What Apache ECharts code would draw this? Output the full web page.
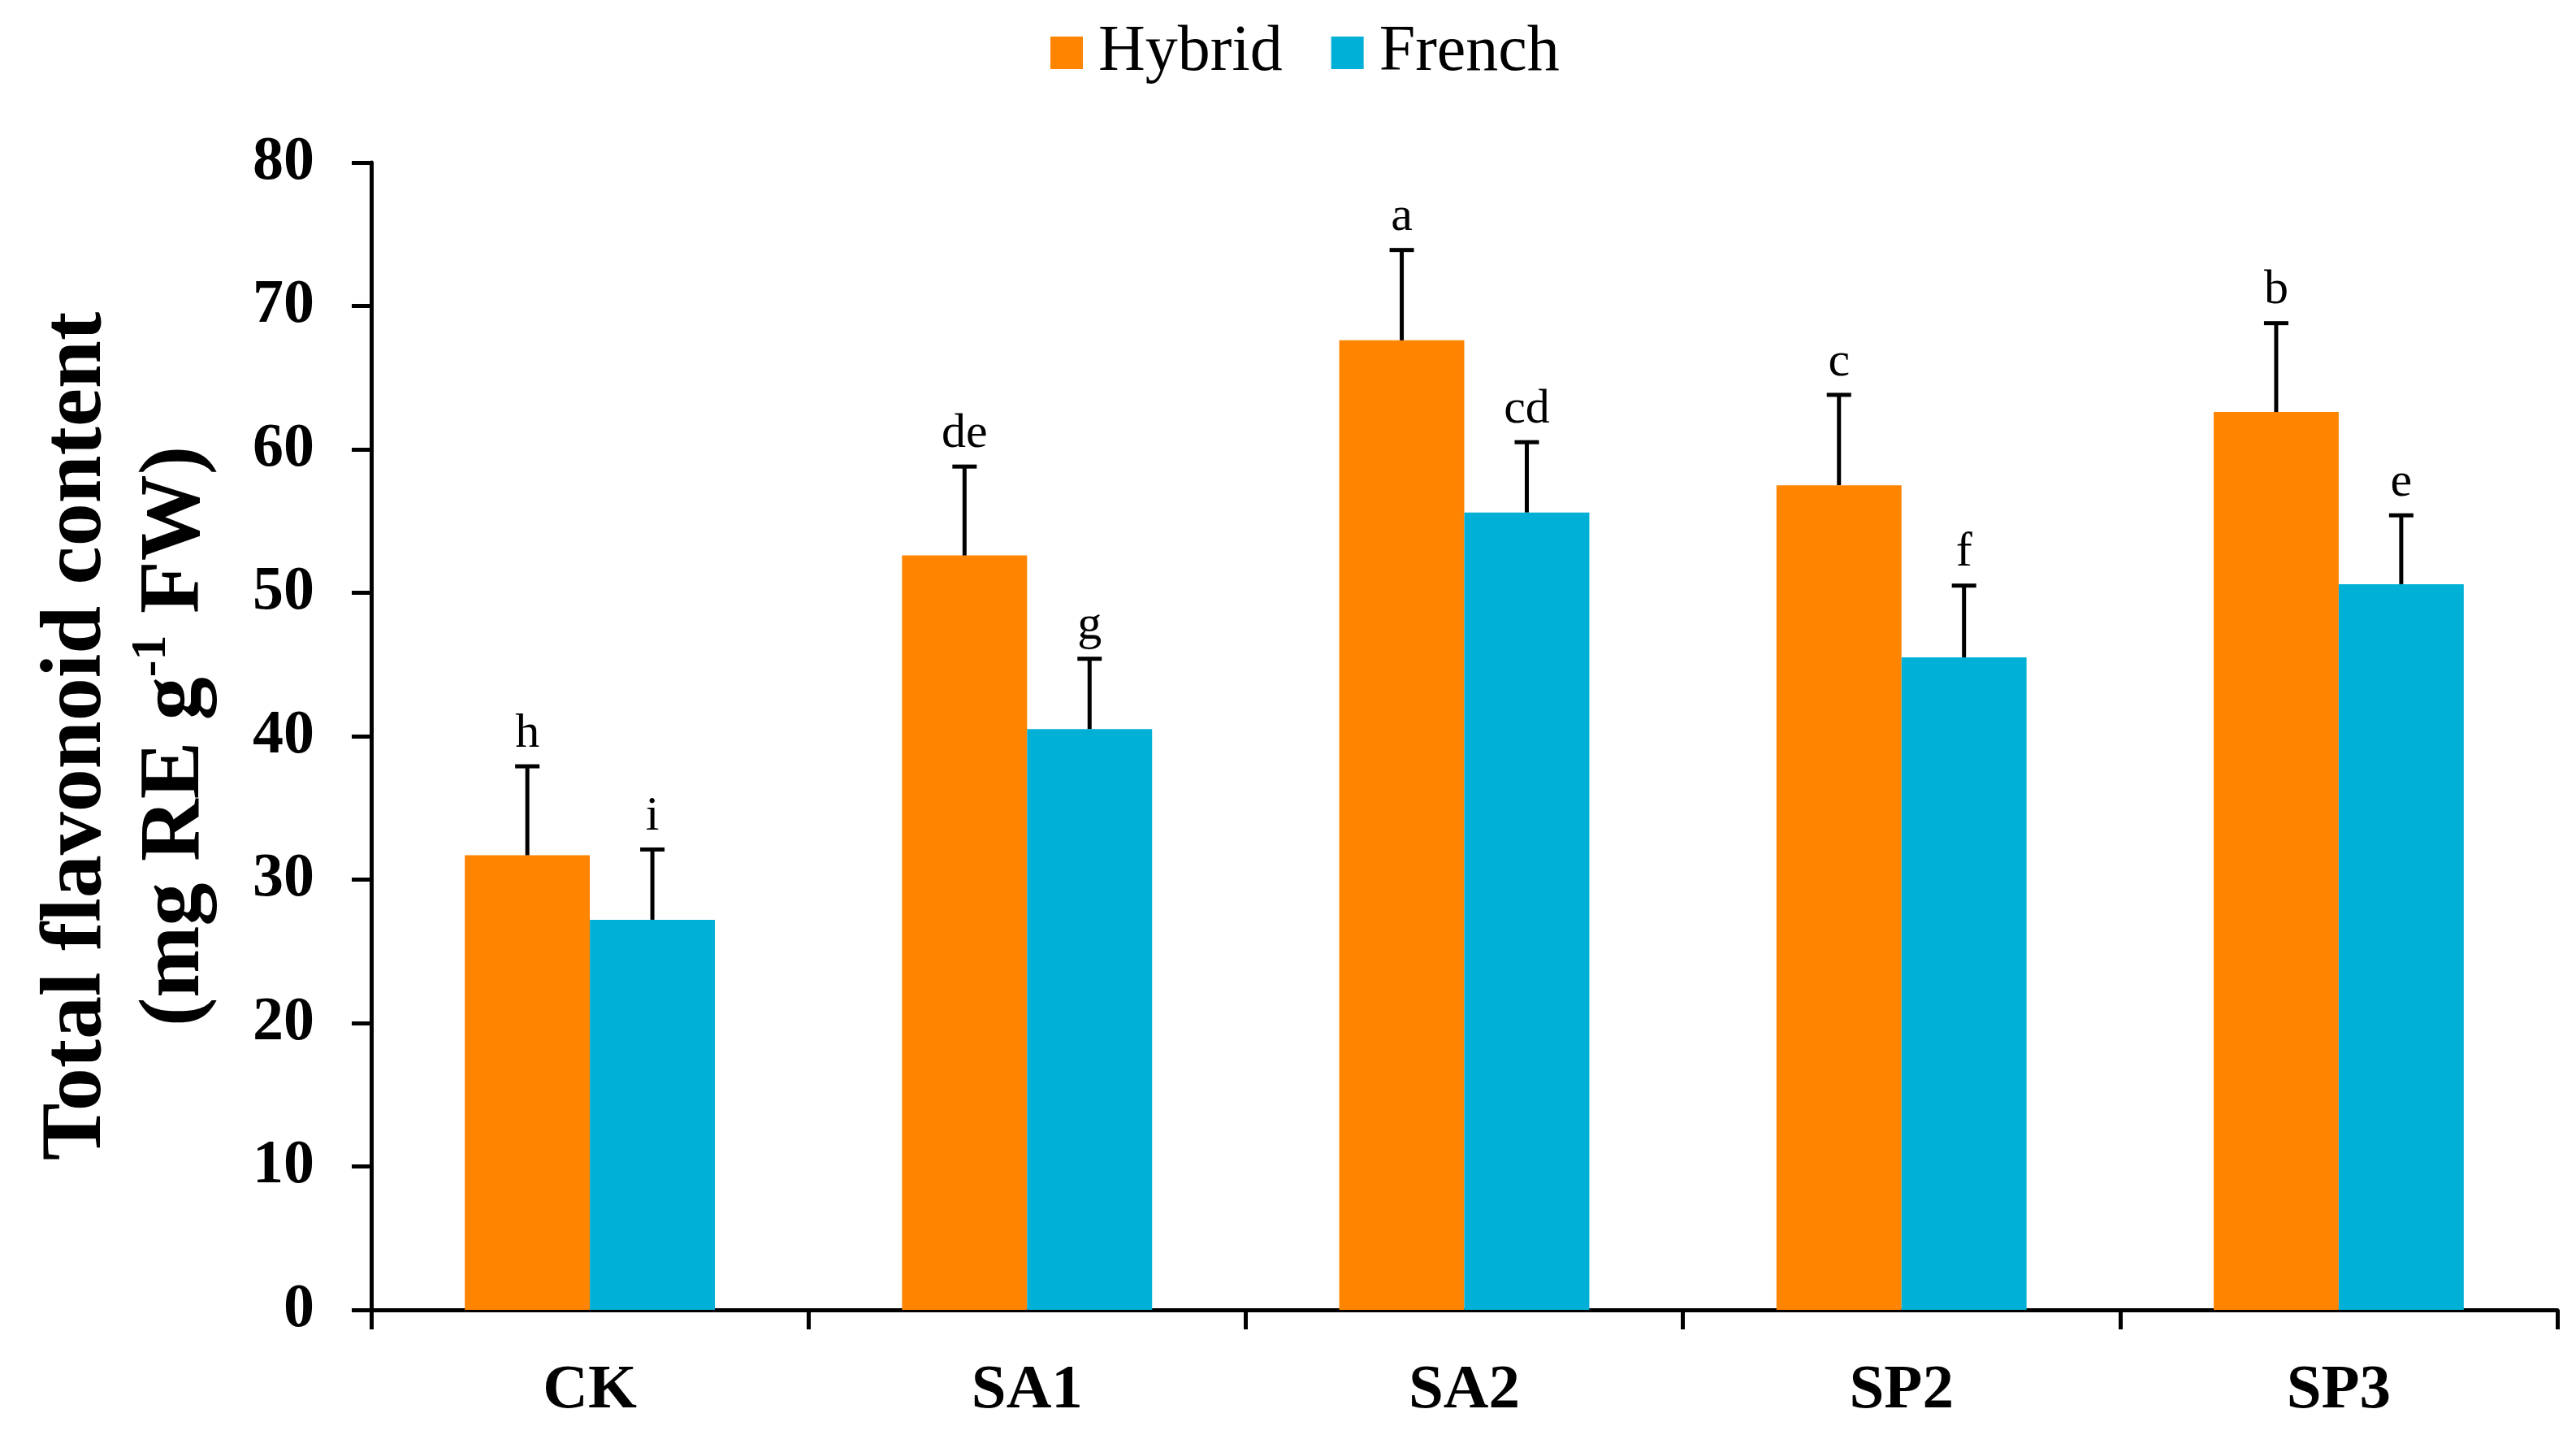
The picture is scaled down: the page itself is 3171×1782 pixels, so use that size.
<!DOCTYPE html>
<html>
<head>
<meta charset="utf-8">
<script src="https://cdn.jsdelivr.net/npm/echarts@6/dist/echarts.min.js"></script>
<style>
html,body{margin:0;padding:0;background:#fff;}
#chart{width:3171px;height:1782px;}
</style>
</head>
<body>
<div id="chart"></div>
<script>
var categories = ['CK', 'SA1', 'SA2', 'SP2', 'SP3'];
var hybrid = [31.7, 52.6, 67.6, 57.5, 62.6];
var french = [27.2, 40.5, 55.6, 45.5, 50.6];
var hybridErr = [6.2, 6.2, 6.3, 6.3, 6.2];
var frenchErr = [4.9, 4.9, 4.9, 5.0, 4.8];
var hybridLetters = ['h', 'de', 'a', 'c', 'b'];
var frenchLetters = ['i', 'g', 'cd', 'f', 'e'];
var yTicks = [0, 10, 20, 30, 40, 50, 60, 70, 80];

var FONT = 'Liberation Serif';
var GAP = 0.428;
var HYB_COLOR = '#FF8400';
var FR_COLOR = '#00B0D6';

function makeErr(values, errs, letters, side) {
  return {
    type: 'custom',
    clip: false,
    z: 5,
    silent: true,
    data: values.map(function (v, i) { return [i, v, errs[i]]; }),
    encode: { x: 0, y: 1 },
    renderItem: function (params, api) {
      var i = api.value(0);
      var v = api.value(1);
      var e = api.value(2);
      var base = api.coord([i, v]);
      var top = api.coord([i, v + e]);
      var bandW = api.size([1, 0])[0];
      var bw = bandW * (1 - GAP) / 2;
      var cx = base[0] + side * bw / 2;
      var half = 15;
      return {
        type: 'group',
        children: [
          { type: 'line', shape: { x1: cx, y1: base[1], x2: cx, y2: top[1] }, style: { stroke: '#000', lineWidth: 5 } },
          { type: 'line', shape: { x1: cx - half, y1: top[1], x2: cx + half, y2: top[1] }, style: { stroke: '#000', lineWidth: 5 } },
          { type: 'text', style: { text: letters[params.dataIndex], x: cx, y: top[1] - 10, align: 'center', verticalAlign: 'bottom', fontSize: 60, fontFamily: FONT, fill: '#000' } }
        ]
      };
    }
  };
}

var chart = echarts.init(document.getElementById('chart'));
chart.setOption({
  animation: false,
  backgroundColor: '#fff',
  legend: {
    data: ['Hybrid', 'French'],
    top: 20,
    left: 1288,
    icon: 'rect',
    itemWidth: 40,
    itemHeight: 40,
    itemGap: 60,
    textStyle: { fontFamily: FONT, fontSize: 80, color: '#000', padding: [0, 0, 0, 14] }
  },
  grid: { left: 457, right: 23, top: 200, bottom: 170, containLabel: false },
  xAxis: {
    type: 'category',
    data: categories,
    axisLine: { lineStyle: { color: '#000', width: 5 } },
    axisTick: { show: true, length: 24, lineStyle: { color: '#000', width: 5 } },
    axisLabel: { fontFamily: FONT, fontWeight: 'bold', fontSize: 77, color: '#000', margin: 62 },
    splitLine: { show: false }
  },
  yAxis: {
    type: 'value',
    min: yTicks[0],
    max: yTicks[yTicks.length - 1],
    interval: 10,
    axisLine: { show: true, lineStyle: { color: '#000', width: 5 } },
    axisTick: { show: true, length: 24, lineStyle: { color: '#000', width: 5 } },
    axisLabel: { fontFamily: FONT, fontWeight: 'bold', fontSize: 76, color: '#000', margin: 70 },
    splitLine: { show: false },
    name: '{t|Total flavonoid content}\n{t|(mg RE g}{s|-1}{t| FW)}',
    nameLocation: 'middle',
    nameRotate: 90,
    nameGap: 180,
    nameTextStyle: {
      rich: {
        t: { fontFamily: FONT, fontWeight: 'bold', fontSize: 106, lineHeight: 121, color: '#000' },
        s: { fontFamily: FONT, fontWeight: 'bold', fontSize: 62, lineHeight: 70, verticalAlign: 'top', color: '#000' }
      }
    }
  },
  series: [
    { name: 'Hybrid', type: 'bar', data: hybrid, barGap: '0%', barCategoryGap: '42.8%', itemStyle: { color: HYB_COLOR } },
    { name: 'French', type: 'bar', data: french, barGap: '0%', barCategoryGap: '42.8%', itemStyle: { color: FR_COLOR } },
    makeErr(hybrid, hybridErr, hybridLetters, -1),
    makeErr(french, frenchErr, frenchLetters, 1)
  ]
});
</script>
</body>
</html>
